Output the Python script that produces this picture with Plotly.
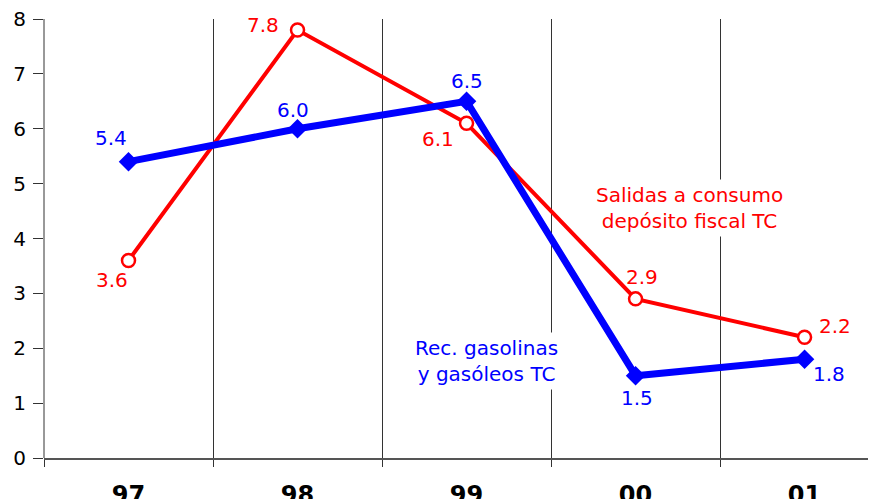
import plotly.graph_objects as go

years = ["97", "98", "99", "00", "01"]
rec_gasolinas = [5.4, 6.0, 6.5, 1.5, 1.8]
salidas_consumo = [3.6, 7.8, 6.1, 2.9, 2.2]
y_ticks = [0, 1, 2, 3, 4, 5, 6, 7, 8]

blue = "#0000FF"
red = "#FF0000"
font = "DejaVu Sans"

fig = go.Figure()
fig.add_trace(go.Scatter(
    x=years, y=salidas_consumo, mode="lines+markers",
    line=dict(color=red, width=4),
    marker=dict(symbol="circle", size=13, color="white", line=dict(color=red, width=2.5)),
    showlegend=False, cliponaxis=False))
fig.add_trace(go.Scatter(
    x=years, y=rec_gasolinas, mode="lines+markers",
    line=dict(color=blue, width=7),
    marker=dict(symbol="diamond", size=15, color=blue),
    showlegend=False, cliponaxis=False))

# data label offsets (pixels)
blue_off = [(-18, 24), (-5, 19), (0, 20), (1, -22), (24, -15)]
red_off = [(-17, -20), (-35, 5), (-29, -16), (6, 22), (30, 11)]

for i, (yv, (dx, dy)) in enumerate(zip(rec_gasolinas, blue_off)):
    fig.add_annotation(x=i, y=yv, text=f"{yv:.1f}", showarrow=False,
                       xshift=dx, yshift=dy, font=dict(family=font, size=20, color=blue))
for i, (yv, (dx, dy)) in enumerate(zip(salidas_consumo, red_off)):
    fig.add_annotation(x=i, y=yv, text=f"{yv:.1f}", showarrow=False,
                       xshift=dx, yshift=dy, font=dict(family=font, size=20, color=red))

fig.add_annotation(x=3.32, y=4.56, text="Salidas a consumo<br>depósito fiscal TC",
                   showarrow=False, bgcolor="white", borderpad=3,
                   font=dict(family=font, size=20, color=red))
fig.add_annotation(x=2.12, y=1.77, text="Rec. gasolinas<br>y gasóleos TC",
                   showarrow=False, bgcolor="white", borderpad=3,
                   font=dict(family=font, size=20, color=blue))

# y axis line from 0 to 8
fig.add_shape(type="line", xref="paper", yref="y", x0=0, x1=0, y0=0, y1=8,
              line=dict(color="#333333", width=1))

# page body has an 8px default margin, so the figure is laid out to compensate
fig.update_layout(
    width=876, height=491,
    margin=dict(l=36, r=0, t=11, b=41),
    paper_bgcolor="white", plot_bgcolor="white",
    xaxis=dict(
        type="category", range=[-0.5, 4.47], automargin=False,
        tickson="boundaries", showgrid=True, gridcolor="#333333", gridwidth=1,
        ticks="outside", ticklen=7, tickcolor="#333333",
        showline=True, linecolor="#555555", linewidth=2,
        tickfont=dict(family=font, size=24, color="black", weight="bold"),
        ticklabelstandoff=14, zeroline=False, ticklabeloverflow="allow",
    ),
    yaxis=dict(
        range=[0, 8], tickvals=y_ticks, showgrid=False, zeroline=False,
        automargin=False,
        ticks="outside", ticklen=10, tickcolor="#333333", showline=False,
        ticklabelstandoff=3, ticklabeloverflow="allow",
        tickfont=dict(family=font, size=20, color="black"),
    ),
)

fig.write_html("out.html")
